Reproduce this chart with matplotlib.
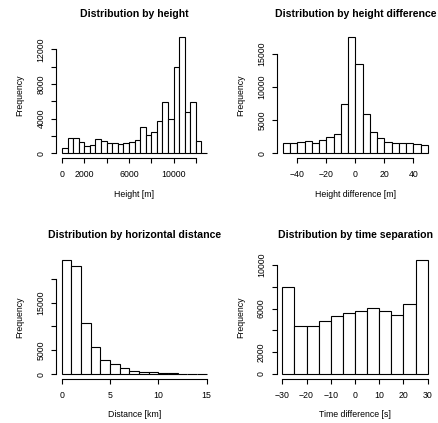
import matplotlib
matplotlib.use("Agg")
import matplotlib.pyplot as plt
import numpy as np

plt.rcParams["font.family"] = ["Liberation Sans", "DejaVu Sans"]

# ---------------------------------------------------------------
# Histogram data (bin edges + counts)
# ---------------------------------------------------------------
height_edges = np.arange(0, 13001, 500)
height_counts = [615, 1810, 1810, 1270, 810, 925, 1615, 1385, 1150, 1230,
                 1075, 1150, 1345, 1580, 3000, 2115, 2500, 3770, 5920, 3920,
                 9920, 13380, 4730, 5880, 1385, 0]
height_xticks = [0, 2000, 4000, 6000, 8000, 10000, 12000]
height_xlabels = ["0", "2000", "", "6000", "", "10000", ""]
height_yticks = [0, 2000, 4000, 6000, 8000, 10000, 12000]
height_ylabels = ["0", "", "4000", "", "8000", "", "12000"]

hdiff_edges = np.arange(-50, 51, 5)
hdiff_counts = [1505, 1505, 1755, 1805, 1605, 1955, 2405, 2860, 7470, 17450,
                13390, 5870, 3160, 2255, 1755, 1505, 1605, 1605, 1330, 1230]
hdiff_xticks = [-40, -20, 0, 20, 40]
hdiff_xlabels = ["\u221240", "\u221220", "0", "20", "40"]
hdiff_yticks = [0, 5000, 10000, 15000]
hdiff_ylabels = ["0", "5000", "10000", "15000"]

dist_edges = np.arange(0, 16, 1)
dist_counts = [23890, 22570, 10760, 5625, 2985, 2085, 1250, 700, 520, 390,
               280, 200, 150, 120, 90]
dist_xticks = [0, 5, 10, 15]
dist_xlabels = ["0", "5", "10", "15"]
dist_yticks = [0, 5000, 10000, 15000, 20000]
dist_ylabels = ["0", "5000", "", "15000", ""]

time_edges = np.arange(-30, 31, 5)
time_counts = [8000, 4425, 4365, 4880, 5300, 5640, 5760, 6060, 5790, 5425,
               6390, 10420]
time_xticks = [-30, -20, -10, 0, 10, 20, 30]
time_xlabels = ["\u221230", "\u221220", "\u221210", "0", "10", "20", "30"]
time_yticks = [0, 2000, 4000, 6000, 8000, 10000]
time_ylabels = ["0", "2000", "", "6000", "", "10000"]

W, H = 438, 423


def r_hist(ax, edges, counts, title, xlabel, xticks, xlabels, yticks, ylabels,
           title_pad=12):
    edges = np.asarray(edges, dtype=float)
    counts = np.asarray(counts, dtype=float)
    ax.bar(edges[:-1], counts, width=np.diff(edges), align="edge",
           color="white", edgecolor="black", linewidth=0.8)

    # R style 4% axis extension
    xr = edges[-1] - edges[0]
    ax.set_xlim(edges[0] - 0.04 * xr, edges[-1] + 0.04 * xr)
    ymax = counts.max()
    ax.set_ylim(-0.04 * ymax, 1.04 * ymax)

    for s in ("top", "right"):
        ax.spines[s].set_visible(False)
    ax.spines["left"].set_bounds(yticks[0], yticks[-1])
    ax.spines["bottom"].set_bounds(xticks[0], xticks[-1])
    for s in ("left", "bottom"):
        ax.spines[s].set_linewidth(0.8)

    ax.set_xticks(xticks)
    ax.set_xticklabels(xlabels)
    ax.set_yticks(yticks)
    ax.set_yticklabels(ylabels, rotation=90, va="center")
    ax.tick_params(length=3.6, width=0.8, labelsize=6.3)
    ax.tick_params(axis="x", pad=5.0)
    ax.tick_params(axis="y", pad=4.0)

    ax.set_title(title, fontsize=7.6, fontweight="bold", pad=title_pad)
    ax.set_xlabel(xlabel, fontsize=6.3)
    ax.set_ylabel("Frequency", fontsize=6.3)
    ax.xaxis.set_label_coords(0.5, -0.29)
    ax.xaxis.label.set_verticalalignment("center")
    ax.yaxis.set_label_coords(-0.23, 0.5)
    ax.yaxis.label.set_verticalalignment("center")


fig = plt.figure(figsize=(W / 100, H / 100), dpi=100)


def add_px_axes(left, top, right, bottom):
    return fig.add_axes([left / W, 1 - bottom / H, (right - left) / W,
                         (bottom - top) / H])


ax1 = add_px_axes(56.2, 32.7, 212.8, 157.9)
ax2 = add_px_axes(277.0, 32.8, 433.6, 157.9)
ax3 = add_px_axes(55.9, 255.6, 212.5, 378.8)
ax4 = add_px_axes(276.5, 255.8, 433.5, 378.6)

r_hist(ax1, height_edges, height_counts, "Distribution by height",
       "Height [m]", height_xticks, height_xlabels, height_yticks,
       height_ylabels, title_pad=11.5)
r_hist(ax2, hdiff_edges, hdiff_counts, "Distribution by height difference",
       "Height difference [m]", hdiff_xticks, hdiff_xlabels, hdiff_yticks,
       hdiff_ylabels, title_pad=11.5)
r_hist(ax3, dist_edges, dist_counts, "Distribution by horizontal distance",
       "Distance [km]", dist_xticks, dist_xlabels, dist_yticks, dist_ylabels,
       title_pad=12.5)
r_hist(ax4, time_edges, time_counts, "Distribution by time separation",
       "Time difference [s]", time_xticks, time_xlabels, time_yticks,
       time_ylabels, title_pad=12.5)

fig.savefig("out.png", dpi=100)
